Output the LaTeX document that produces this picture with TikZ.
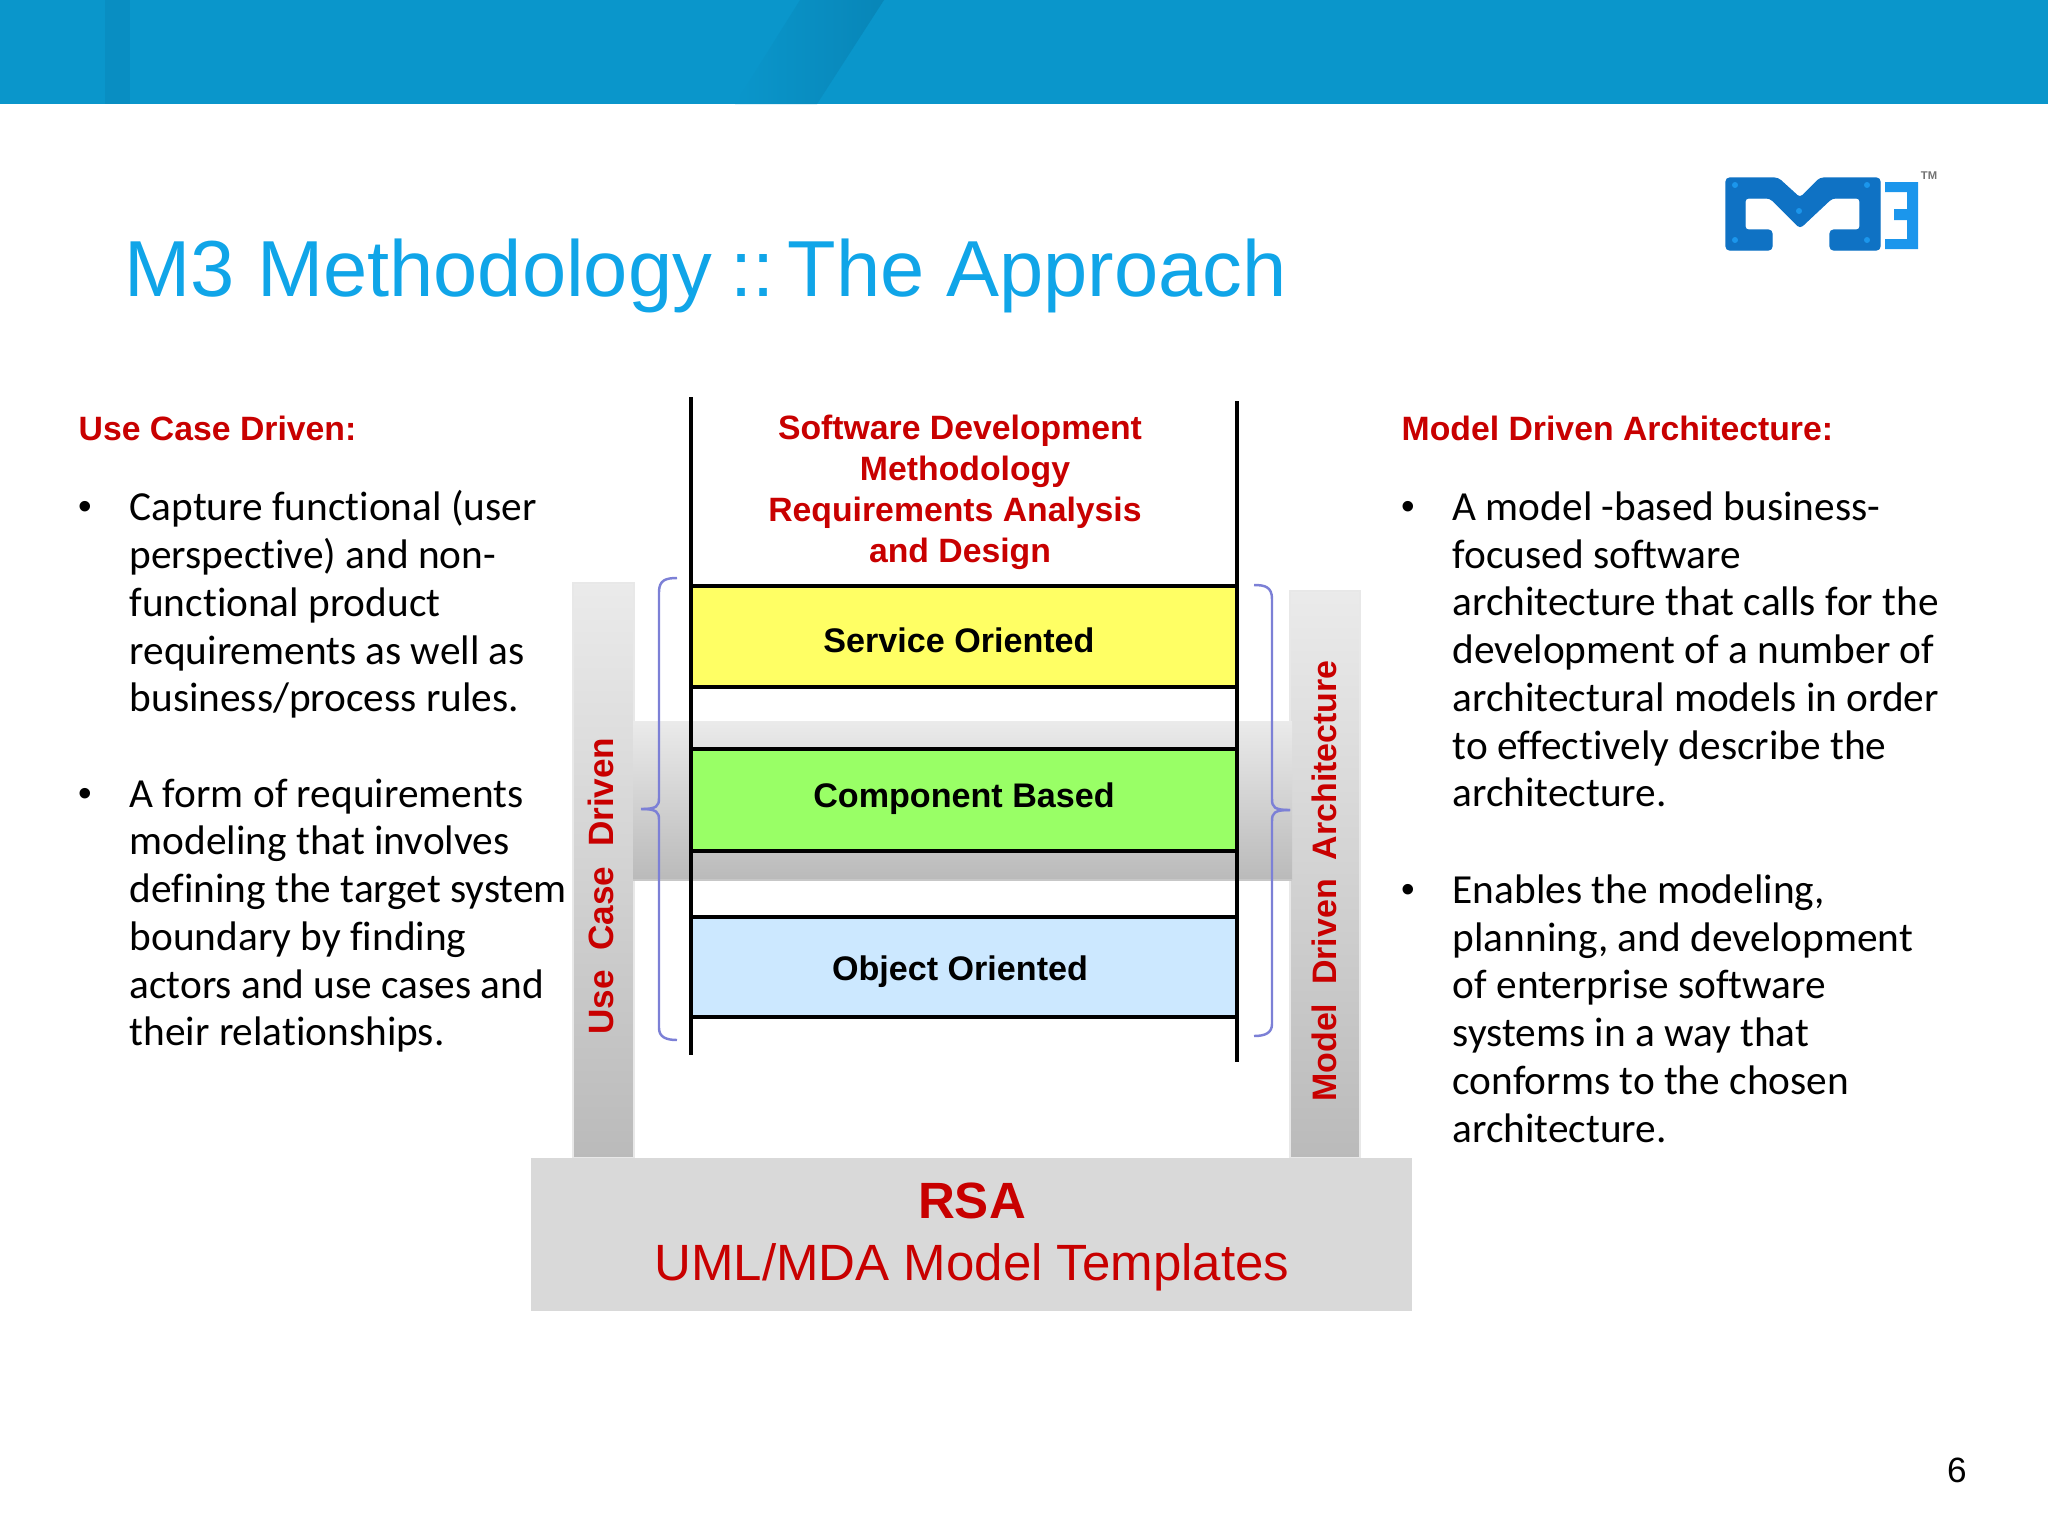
\documentclass[tikz,border=0pt]{standalone}
\usepackage{fontspec}
\usepackage{tikz}
\setmainfont{Liberation Sans}
\newfontfamily\bodyfont[Ligatures=NoCommon]{Carlito}
\definecolor{bandblue}{HTML}{0A96CB}
\definecolor{banddark}{HTML}{0886B8}
\definecolor{titleblue}{HTML}{10A5E8}
\definecolor{headred}{HTML}{C80000}
\definecolor{bracecol}{HTML}{7C80D6}
\definecolor{logoblue}{HTML}{0F72C4}
\definecolor{logolight}{HTML}{1B96EC}
\tikzset{
  head/.style={anchor=west, text=headred, font=\fontsize{9.6}{11.7}\selectfont\bfseries},
  subhead/.style={text=headred, inner sep=0pt, font=\fontsize{9.6}{11.7}\selectfont\bfseries},
  body/.style={anchor=north west, align=left, font=\bodyfont\fontsize{11.75}{13.57}\selectfont},
  dot/.style={font=\fontsize{11}{13}\selectfont},
  layer/.style={font=\fontsize{9.7}{11}\selectfont\bfseries},
  rail/.style={top color=black!8, bottom color=black!27, draw=black!9, line width=0.3pt},
  side/.style={rotate=90, text=headred, font=\fontsize{10}{12}\selectfont\bfseries},
  brace/.style={draw=bracecol, line width=0.7pt},
  stack/.style={line width=0.9pt},
  rivet/.style={fill=logolight},
}
\begin{document}
\begin{tikzpicture}[x=0.01cm, y=-0.01cm]
  \useasboundingbox (0,0) rectangle (2048,1536);
  % top band
  \fill [bandblue] (0,0) rectangle (2048,104);
  \shade [left color=bandblue, right color=banddark] (800,0) -- (884,0) -- (817,104) -- (735,104) -- cycle;
  \fill [banddark!50!bandblue] (105,0) rectangle (130,104);
  \node (TT) [anchor=base west, text=titleblue, inner sep=0pt, font=\fontsize{22.6}{28}\selectfont] at (124,296) {M3 Methodology\hspace{-1pt} ::\hspace{-4.8pt} The Approach};
  % logo
  \fill [logoblue, draw=logoblue, line width=0.3pt, line join=round, rounded corners=1pt] (1726,178) -- (1778,178) -- (1800,198) -- (1820,178) -- (1880,178) -- (1880,250) -- (1830,250) -- (1830,230) -- (1860,230) -- (1860,198) -- (1832,198) -- (1800,228) -- (1770,198) -- (1745,198) -- (1745,230) -- (1772,230) -- (1772,250) -- (1726,250) -- cycle;
  \fill [rivet] (1735,185) circle [radius=3];
  \fill [rivet] (1867,185) circle [radius=3];
  \fill [rivet] (1735,240) circle [radius=3];
  \fill [rivet] (1867,240) circle [radius=3];
  \fill [rivet] (1799,211) circle [radius=3];
  \fill [logolight] (1885,182) -- (1918,182) -- (1918,249) -- (1885,249) -- (1885,239) -- (1907,239) -- (1907,220) -- (1894,220) -- (1894,209) -- (1907,209) -- (1907,192) -- (1885,192) -- cycle;
  \node (TM) [inner sep=0pt, text=black!55, font=\fontsize{3.2}{4}\selectfont\bfseries] at (1929,176) {TM};
  % left text
  \node (LH) [head, inner sep=0pt] at (78,428) {Use Case Driven:};
  \node (LD1) [dot, inner sep=0pt] at (85,510) {•};
  \node (LP1) [body, inner sep=0pt] at (129,490) {Capture functional (user\\perspective) and non-\\functional product\\requirements as well as\\business/process rules.};
  \node (LD2) [dot, inner sep=0pt] at (85,797) {•};
  \node (LP2) [body, inner sep=0pt] at (129,778) {A form of requirements\\modeling that involves\\defining the target system\\boundary by finding\\actors and use cases and\\their relationships.};
  % right text
  \node (RH) [head, inner sep=0pt] at (1401,428) {Model Driven Architecture:};
  \node (RD1) [dot, inner sep=0pt] at (1408,510) {•};
  \node (RP1) [body, inner sep=0pt] at (1452,491) {A model -based business-\\focused software\\architecture that calls for the\\development of a number of\\architectural models in order\\to effectively describe the\\architecture.};
  \node (RD2) [dot, inner sep=0pt] at (1408,893) {•};
  \node (RP2) [body, inner sep=0pt] at (1452,874) {Enables the modeling,\\planning, and development\\of enterprise software\\systems in a way that\\conforms to the chosen\\architecture.};
  % rails
  \draw [rail] (573,583) rectangle (634,1158);
  \draw [rail] (1290,591) rectangle (1360,1158);
  \draw [rail, draw=none] (633,721) rectangle (1292,879);
  \draw [black!22, line width=0.6pt] (633,880) -- (1292,880);
  \fill [black!15] (531,1158) rectangle (1412,1311);
  % stack
  \draw [stack, fill={rgb,255:red,255;green,255;blue,100}] (691,586) rectangle (1237,687);
  \draw [stack, fill={rgb,255:red,153;green,255;blue,102}] (691,749) rectangle (1237,851);
  \draw [stack, fill={rgb,255:red,204;green,232;blue,255}] (691,917) rectangle (1237,1017);
  \draw [stack] (691,397) -- (691,1055);
  \draw [stack] (1237,401) -- (1237,1062);
  % braces
  \coordinate (LT) at (677,578);
  \coordinate (LM) at (641,809);
  \coordinate (LB) at (677,1040);
  \coordinate (RT) at (1254,585);
  \coordinate (RM) at (1290,810);
  \coordinate (RB) at (1254,1036);
  \draw [brace] (LT) .. controls (666,578) and (659,580) .. (659,592) -- (659,798) .. controls (659,806) and (657,809) .. (LM);
  \draw [brace] (LM) .. controls (657,809) and (659,812) .. (659,820) -- (659,1028) .. controls (659,1037) and (666,1040) .. (LB);
  \draw [brace] (RT) .. controls (1265,585) and (1272,587) .. (1272,599) -- (1272,799) .. controls (1272,807) and (1274,810) .. (RM);
  \draw [brace] (RM) .. controls (1274,810) and (1272,813) .. (1272,821) -- (1272,1024) .. controls (1272,1033) and (1265,1036) .. (RB);
  % labels
  \node (H1) [subhead] at (960,431) {Software Development};
  \node (H2) [subhead] at (965,472) {Methodology};
  \node (H3) [subhead] at (955,513) {Requirements Analysis};
  \node (H4) [subhead] at (960,554) {and Design};
  \node (SO) [layer] at (959,640) {Service Oriented};
  \node (CB) [layer] at (964,799) {Component Based};
  \node (OO) [layer] at (960,972) {Object Oriented};
  \node (UC) [side] at (601,886) {Use\ \ Case\ \ Driven};
  \node (MD) [side, font=\fontsize{9.65}{12}\selectfont\bfseries] at (1324,881) {Model\ \ Driven\ \ Architecture};
  \node (RS) [text=headred, font=\fontsize{14.5}{17}\selectfont\bfseries] at (972,1201) {RSA};
  \node (UM) [text=headred, font=\fontsize{14.5}{17}\selectfont] at (972,1267) {UML/MDA Model Templates};
  \node (PG) [font=\fontsize{10}{12}\selectfont] at (1957,1470) {6};
\end{tikzpicture}
\end{document}
